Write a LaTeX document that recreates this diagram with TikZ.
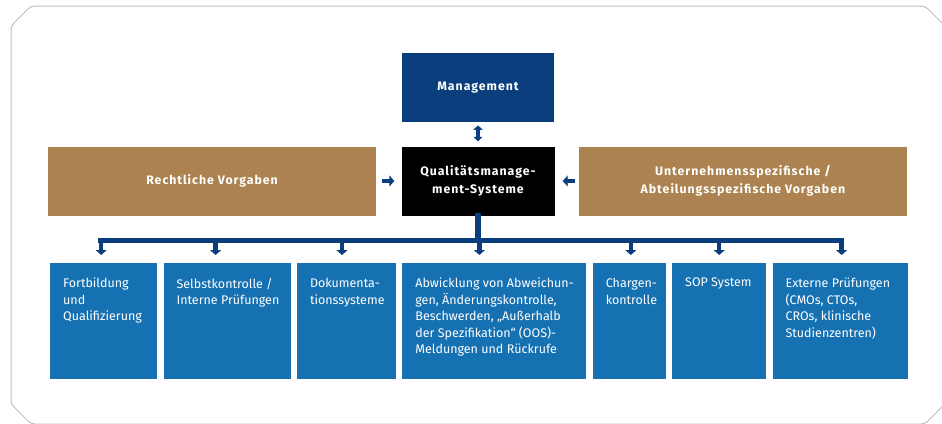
\documentclass[tikz,border=0pt]{standalone}
\usepackage{fontspec}
\setmainfont{Fira Sans}
\newfontfamily\headfont[LetterSpace=8]{Fira Sans}
\usepackage{tikz}
\usetikzlibrary{positioning, arrows.meta}
\definecolor{mgmtblue}{RGB}{10,62,124}
\definecolor{taskblue}{RGB}{22,113,178}
\definecolor{rulebrown}{RGB}{172,131,80}
\tikzstyle{head} = [rectangle, minimum height=69pt, text centered, align=center, text=white, font=\headfont\bfseries\fontsize{12.3}{18}\selectfont]
\tikzstyle{rules} = [head, fill=rulebrown, minimum width=328pt]
\tikzstyle{task} = [rectangle, fill=taskblue, minimum height=116pt, anchor=north west]
\tikzstyle{tasktext} = [anchor=north west, align=left, text=white, inner xsep=13pt, inner ysep=15pt, font=\fontsize{12.5}{16.5}\selectfont]
\tikzstyle{arrow} = [line width=4.5pt, draw=mgmtblue, -{Triangle[length=5pt,width=11pt]}]
\tikzstyle{dblarrow} = [line width=4pt, draw=mgmtblue, {Triangle[length=4.5pt,width=9pt]}-{Triangle[length=4.5pt,width=9pt]}]
\tikzstyle{bus} = [line width=5.5pt, draw=mgmtblue, line cap=rect]
\tikzstyle{frame} = [draw=black!25, line width=1pt, rounded corners=4pt]
\begin{document}
\begin{tikzpicture}[x=1pt, y=-1pt, node distance=6pt]
        \useasboundingbox (0,0) rectangle (942,423);
        \begin{scope}
        \clip (0,0) rectangle (942,423);
        \draw [frame] (11,26) -- (31,6) -- (925,6) -- (945,26) -- (945,404) -- (925,424) -- (31,424) -- (11,404) -- cycle;
        \end{scope}

        \node (qms) [head, fill=black, minimum width=153pt] at (478,181) {Qualitätsmanage-\\ment-Systeme};
        \node (mgmt) [head, fill=mgmtblue, minimum width=152pt, above=24pt of qms] {Management};
        \node (recht) [rules, left=25pt of qms] {Rechtliche Vorgaben};
        \node (intern) [rules, right=24pt of qms] {Unternehmensspezifische /\\Abteilungsspezifische Vorgaben};

        \node (fort) [task, minimum width=107pt, label={[tasktext]north west:Fortbildung\\und\\Qualifizierung}] at (50,263) {};
        \node (selbst) [task, minimum width=127pt, right=of fort, label={[tasktext]north west:Selbstkontrolle /\\Interne Prüfungen}] {};
        \node (doku) [task, minimum width=99pt, right=of selbst, label={[tasktext]north west:Dokumenta-\\tionssysteme}] {};
        \node (abw) [task, minimum width=184pt, right=of doku, label={[tasktext]north west:Abwicklung von Abweichun-\\gen, Änderungskontrolle,\\Beschwerden, „Außerhalb\\der Spezifikation“ (OOS)-\\Meldungen und Rückrufe}] {};
        \node (charg) [task, minimum width=73pt, right=of abw, label={[tasktext]north west:Chargen-\\kontrolle}] {};
        \node (sop) [task, minimum width=94pt, right=of charg, label={[tasktext]north west:SOP System}] {};
        \node (ext) [task, minimum width=135pt, right=of sop, label={[tasktext]north west:Externe Prüfungen\\(CMOs, CTOs,\\CROs, klinische\\Studienzentren)}] {};

        \coordinate (bus) at ([yshift=-25pt]qms.south);

        \draw [dblarrow] ([yshift=-3pt]mgmt.south) -- ([yshift=5pt]qms.north);
        \draw [arrow] ([xshift=6pt]recht.east) -- ([xshift=-7pt]qms.west);
        \draw [arrow] ([xshift=-4pt]intern.west) -- ([xshift=8pt]qms.east);
        \draw [bus] (qms.south) -- (bus);
        \draw [bus] ([xshift=-2.5pt]bus -| fort.north) -- ([xshift=1.5pt]bus -| ext.north);
        \foreach \n/\dx in {fort/-2.5, selbst/-11.5, doku/-4.5, abw/-15, charg/1.5, sop/0, ext/1.5}
            \draw [arrow] ([xshift=\dx pt]bus -| \n.north) -- ([xshift=\dx pt, yshift=8pt]\n.north);

        \end{tikzpicture}
\end{document}
